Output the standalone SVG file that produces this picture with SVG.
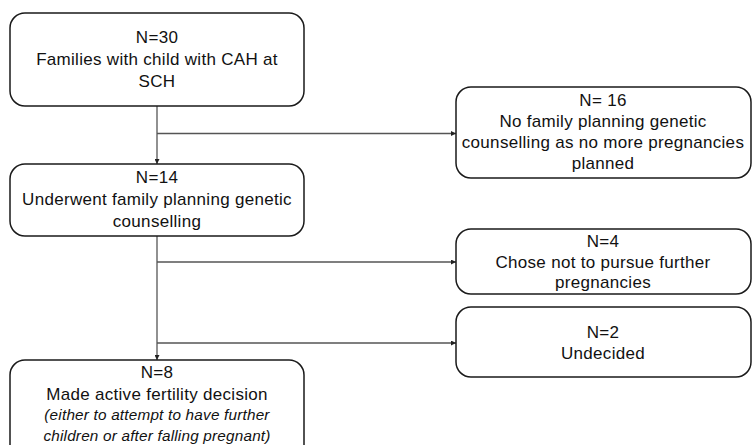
<svg xmlns="http://www.w3.org/2000/svg" width="753" height="445" viewBox="0 0 753 445">
<defs>
<marker id="ah" viewBox="0 0 10 10" refX="10" refY="5" markerWidth="5" markerHeight="5" orient="auto" markerUnits="userSpaceOnUse"><path d="M0,0 L10,5 L0,10 z" fill="#222"/></marker>
</defs>
<style>
.box{fill:#fff;stroke:#1a1a1a;stroke-width:1.5}
.t{font-family:"Liberation Sans","Open Sans",Arial,sans-serif;font-size:17px;letter-spacing:0.3px;fill:#111;text-anchor:middle}
.i{font-style:italic;font-size:15.3px;letter-spacing:0.2px}
.c{fill:none;stroke:#555;stroke-width:1.3}
</style>
<rect width="753" height="445" fill="#fff"/>
<g id="connectors">
<path class="c" d="M157,106 V164" marker-end="url(#ah)"/>
<path class="c" d="M157,133.5 H456" marker-end="url(#ah)"/>
<path class="c" d="M157,236 V360" marker-end="url(#ah)"/>
<path class="c" d="M157,262 H456" marker-end="url(#ah)"/>
<path class="c" d="M157,343 H456" marker-end="url(#ah)"/>
</g>
<g id="n30">
<rect class="box" x="10" y="13" width="294" height="93" rx="15"/>
<text class="t" x="157" y="43">N=30</text>
<text class="t" x="157" y="65">Families with child with CAH at</text>
<text class="t" x="157" y="87">SCH</text>
</g>
<g id="n14">
<rect class="box" x="10" y="164" width="294" height="72" rx="15"/>
<text class="t" x="157" y="183">N=14</text>
<text class="t" x="157" y="205">Underwent family planning genetic</text>
<text class="t" x="157" y="227">counselling</text>
</g>
<g id="n16">
<rect class="box" x="456" y="87" width="295" height="91" rx="15"/>
<text class="t" x="603" y="106">N= 16</text>
<text class="t" x="603" y="127">No family planning genetic</text>
<text class="t" x="603" y="148">counselling as no more pregnancies</text>
<text class="t" x="603" y="169">planned</text>
</g>
<g id="n4">
<rect class="box" x="456" y="229" width="295" height="65" rx="15"/>
<text class="t" x="603" y="247">N=4</text>
<text class="t" x="603" y="268">Chose not to pursue further</text>
<text class="t" x="603" y="288">pregnancies</text>
</g>
<g id="n2">
<rect class="box" x="456" y="307" width="295" height="70" rx="15"/>
<text class="t" x="603" y="338">N=2</text>
<text class="t" x="603" y="359">Undecided</text>
</g>
<g id="n8">
<rect class="box" x="10" y="360" width="294" height="100" rx="15"/>
<text class="t" x="157" y="378">N=8</text>
<text class="t" x="157" y="400">Made active fertility decision</text>
<text class="t i" x="157" y="420">(either to attempt to have further</text>
<text class="t i" x="157" y="441">children or after falling pregnant)</text>
</g>
</svg>
